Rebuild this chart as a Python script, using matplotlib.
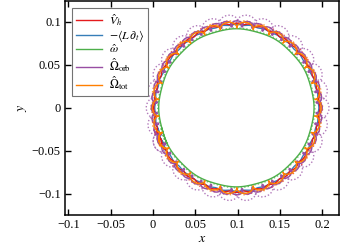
import numpy as np
import matplotlib
matplotlib.use("Agg")
import matplotlib.pyplot as plt
from matplotlib.ticker import FuncFormatter, FixedLocator

plt.rcParams['font.family'] = ['Liberation Serif', 'DejaVu Serif']
plt.rcParams['mathtext.fontset'] = 'stix'
plt.rcParams['axes.linewidth'] = 1.1

# ---- data ----
labels = [r'$\hat{V}_h$', r'$-\langle L\,\partial_t\rangle$', r'$\hat{\omega}$',
          r'$\hat{\Omega}_{\rm orb}$', r'$\hat{\Omega}_{\rm tot}$']
colors = ['#e41a1c', '#377eb8', '#4daf4a', '#984ea3', '#ff7f00']
# guiding-circle centre x, radius, loop amplitude and loop count (solid curves)
solid_cx = [0.099, 0.099, 0.0985, 0.099, 0.099]
solid_R = [0.0975, 0.0965, 0.0915, 0.0975, 0.0962]
solid_amp = [0.0008, 0.0005, 0.0003, 0.0035, 0.0036]
solid_N = [40, 36, 12, 48, 30]
# dotted (faint) companion curves
dot_cx = [0.099, 0.099, 0.0985, 0.1, 0.099]
dot_R = [0.0995, 0.0985, 0.0925, 0.1025, 0.0985]
dot_amp = [0.0016, 0.0014, 0.0004, 0.0055, 0.003]
dot_N = [44, 40, 12, 30, 30]
dot_colors = ['#e41a1c', '#6fb0e0', '#4daf4a', '#984ea3', '#ff7f00']
start_deg = -165.0
span_deg = 372.0
xticks = [-0.1, -0.05, 0, 0.05, 0.1, 0.15, 0.2]
yticks = [-0.1, -0.05, 0, 0.05, 0.1]


def trajectory(cx, R, a, N):
    th = np.radians(np.linspace(start_deg, start_deg + span_deg, 4000))
    ph = N * th
    radial = R + a * np.cos(ph)
    tang = a * np.sin(ph)
    x = cx + radial * np.cos(th) - tang * np.sin(th)
    y = radial * np.sin(th) + tang * np.cos(th)
    return x, y


fig = plt.figure(figsize=(3.44, 2.47), dpi=100)
ax = fig.add_axes([0.189, 0.131, 0.797, 0.865])

for i in [3, 0, 1, 4, 2]:
    x, y = trajectory(dot_cx[i], dot_R[i], dot_amp[i], dot_N[i])
    ax.plot(x, y, color=dot_colors[i], lw=1.0, ls=(0, (1, 1.5)), alpha=0.75)

handles = [None] * 5
for i in [2, 1, 0, 3, 4]:
    x, y = trajectory(solid_cx[i], solid_R[i], solid_amp[i], solid_N[i])
    h, = ax.plot(x, y, color=colors[i], lw=1.0, label=labels[i])
    handles[i] = h

ax.set_xlim(-0.104, 0.22)
ax.set_ylim(-0.124, 0.124)
ax.xaxis.set_major_locator(FixedLocator(xticks))
ax.yaxis.set_major_locator(FixedLocator(yticks))
fmt = FuncFormatter(lambda v, p: ('%g' % v).replace('-', '\u2212'))
ax.xaxis.set_major_formatter(fmt)
ax.yaxis.set_major_formatter(fmt)
ax.tick_params(direction='in', top=True, right=True, length=4, width=1.0,
               labelsize=9, pad=3)
ax.set_xlabel(r'$x$', fontsize=10, labelpad=1)
ax.set_ylabel(r'$y$', fontsize=10, labelpad=2)

leg = ax.legend(handles=handles, loc='upper left', fontsize=8.6, frameon=True,
                fancybox=False, edgecolor='0.45', framealpha=1,
                handlelength=2.2, handletextpad=0.6, labelspacing=0.0,
                borderpad=0.3, borderaxespad=0.6)
leg.get_frame().set_linewidth(0.8)

fig.savefig('out.png', dpi=100)
